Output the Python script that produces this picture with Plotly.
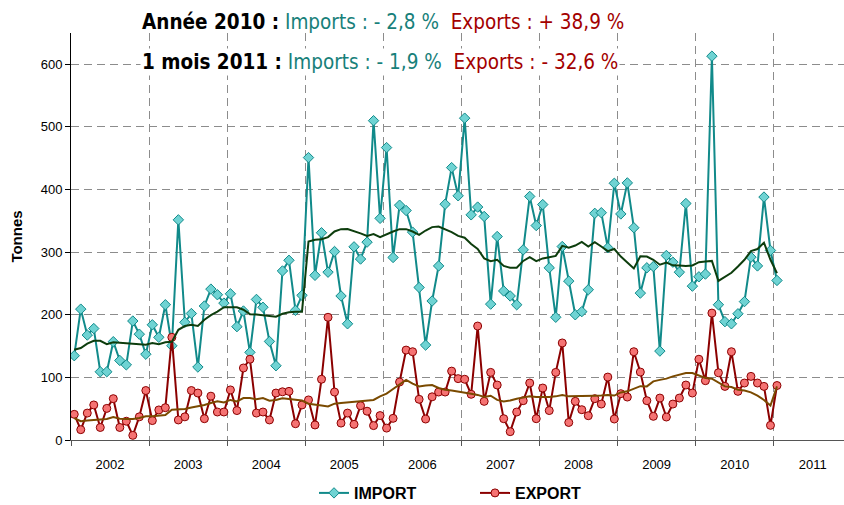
import plotly.graph_objects as go

years = ["2002", "2003", "2004", "2005", "2006", "2007", "2008", "2009", "2010", "2011"]

imports = [
    134.6, 209, 167.6, 178, 109, 109, 157, 127, 120, 190, 169, 137,
    184, 164, 216, 150.5, 351.6, 188, 202, 116.5, 214, 241, 232, 218.6,
    233.5, 181, 206, 140, 224.5, 212, 157.4, 118.6, 270, 287, 207, 231,
    451, 263, 331, 268, 301, 230, 185.6, 308.5, 289, 316, 510, 354,
    467, 291.5, 375, 366.5, 332, 243.6, 151.6, 222, 278, 376.6, 435, 390,
    514, 359.6, 372, 357, 217, 325, 238, 230, 216, 303.7, 389, 342.5,
    376, 275, 196, 309, 253.7, 200, 205, 240, 362, 363, 307, 410,
    361, 410.6, 339, 234.6, 275, 277, 142, 294.7, 284, 268, 377.7, 245.7,
    260.6, 265, 613, 216, 189, 185.6, 201.6, 221, 292, 278, 388, 302.7,
    254.8,
]

exports = [
    41, 16.5, 43, 56, 20, 50.5, 66, 20, 30, 7.4, 37, 79,
    31, 48, 51.6, 164, 32, 37, 79, 75, 34, 70, 44.7, 44.7,
    80, 47, 115, 129, 43, 44.7, 32, 75, 77, 77.7, 26, 56,
    64, 24, 97, 196, 76.6, 27, 43, 25, 54.8, 46, 23, 39,
    19, 34.6, 92.6, 143.6, 141, 65, 33.5, 69, 76.6, 76.6, 110, 98,
    97, 73, 182, 61.7, 108, 87.8, 34, 13.3, 44.7, 62.8, 91, 34,
    83, 47, 108, 155, 28, 61.7, 48.4, 38.8, 66, 57.4, 100.5, 33.5,
    74, 68.6, 141, 108.5, 62.8, 37.8, 67, 36.7, 57.4, 67, 87.8, 75,
    129, 94.7, 202.7, 107.4, 85.6, 141, 77.7, 91, 101.6, 91, 85.6, 23.4,
    87,
]

imports_avg = [
    144, 147, 154, 158.5, 158.5, 153, 156, 155, 155, 154, 153, 152,
    155, 153, 156, 157, 176, 182, 184, 182, 192, 199.5, 205, 212,
    212, 212, 208, 201, 200.5, 199.5, 198, 197, 201.6, 204, 205, 205,
    317, 319.7, 320.7, 324, 333, 336.7, 337, 334, 330, 326, 329, 324,
    329, 333, 336.7, 336.7, 333, 327.7, 334.6, 340, 341, 336.7, 332, 326,
    323, 313, 305, 290, 285.6, 287.8, 278, 275, 275, 286, 292, 285.6,
    290, 292, 294, 310, 307, 310.6, 316.5, 309, 316, 309, 301.6, 305,
    293, 283.5, 274, 293.5, 293, 287.8, 280, 283.5, 279, 278.7, 278, 278.7,
    284, 285, 286, 254, 260, 267, 277, 287.8, 301.6, 305, 315, 287.8,
    266.5,
]

exports_avg = [
    35, 30, 31, 32, 32, 33.5, 36.7, 34, 33.5, 33.5, 35, 37.8,
    37.8, 39, 40, 48.4, 49.5, 49.5, 52, 53.7, 56, 59, 61.7, 60,
    64, 61.7, 67, 67, 65, 67, 62.8, 64, 66.5, 65.4, 64, 63,
    58, 56, 55, 53.7, 58, 59, 60, 60.6, 62, 62.8, 64, 69.7,
    74, 81.4, 88, 96, 90, 85.6, 87, 87.8, 83, 80.3, 79, 77.7,
    76, 74, 72, 68.6, 70.7, 64, 61.7, 63, 66, 68, 69.7, 68.6,
    68, 68.6, 69.7, 72, 69.7, 69.7, 70.7, 70.7, 70.7, 71, 71.8, 71,
    76, 77.7, 82, 86, 85.6, 93.6, 96, 98, 101.6, 104, 107, 107,
    102.7, 99, 98, 92, 85.6, 84.6, 80.3, 79, 76, 70.7, 64, 55,
    85.6,
]

months = [i + 0.5 for i in range(len(imports))]
year_centers = [12 * k + 6 for k in range(len(years))]

TEAL = "#118a8a"
DARKRED = "#8b0000"
NARROW = "Liberation Sans Narrow, Arial Narrow, DejaVu Sans Condensed, sans-serif"

fig = go.Figure()
fig.add_trace(go.Scatter(
    x=months, y=imports, mode="lines+markers", name="IMPORT",
    line=dict(color=TEAL, width=2),
    marker=dict(symbol="diamond", size=8, color="#6fd3d3", line=dict(color=TEAL, width=1)),
))
fig.add_trace(go.Scatter(
    x=months, y=exports, mode="lines+markers", name="EXPORT",
    line=dict(color=DARKRED, width=2),
    marker=dict(symbol="circle", size=8, color="#f57373", line=dict(color=DARKRED, width=1)),
))
fig.add_trace(go.Scatter(
    x=months, y=imports_avg, mode="lines", showlegend=False,
    line=dict(color="#0d3d0d", width=2), hoverinfo="skip",
))
fig.add_trace(go.Scatter(
    x=months, y=exports_avg, mode="lines", showlegend=False,
    line=dict(color="#7a4a00", width=2), hoverinfo="skip",
))

fig.update_layout(
    width=844, height=505,
    margin=dict(l=71, r=0, t=33, b=65, autoexpand=False),
    paper_bgcolor="white", plot_bgcolor="white",
    font=dict(family="Liberation Sans, Arial, sans-serif", size=13, color="black"),
    showlegend=True,
    legend=dict(
        orientation="h", xref="container", yref="container",
        x=314 / 844, xanchor="left", y=(505 - 493) / 505, yanchor="middle",
        font=dict(family="Liberation Sans, Arial, sans-serif", size=16, color="black", weight="bold"),
        itemwidth=30, entrywidth=116, bgcolor="rgba(0,0,0,0)",
    ),
    xaxis=dict(
        range=[0, 118.8], showgrid=False, zeroline=False, automargin=False,
        tickmode="array", tickvals=year_centers, ticktext=years, ticks="",
        ticklabelstandoff=12,
        showline=True, linecolor="#555555", linewidth=1,
        minor=dict(tickmode="linear", tick0=0, dtick=12, showgrid=True,
                   gridcolor="#8c8c8c", griddash="8px,5px", gridwidth=1,
                   ticks="outside", ticklen=5, tickcolor="#555555"),
    ),
    yaxis=dict(
        range=[0, 650], tickmode="array", tickvals=[0, 100, 200, 300, 400, 500, 600],
        showgrid=True, gridcolor="#8c8c8c", griddash="8px,5px", gridwidth=1,
        zeroline=False, showline=True, linecolor="black", linewidth=1, automargin=False,
        ticks="outside", ticklen=5, tickcolor="black",
        title=dict(text="<b>Tonnes</b>", font=dict(size=15), standoff=14),
    ),
)

line1 = ("<b>Année 2010 :</b> <span style='color:#17807a'>Imports : - 2,8 %</span>&nbsp; "
         "<span style='color:#a30000'>Exports : + 38,9 %</span>")
line2 = ("<b>1 mois 2011 :</b> <span style='color:#17807a'>Imports : - 1,9 %</span>&nbsp; "
         "<span style='color:#a30000'>Exports : - 32,6 %</span>")
fig.add_annotation(text=line1, xref="paper", yref="paper", x=(140 - 71) / 773, y=(440 - 22) / 407,
                   xanchor="left", yanchor="middle", showarrow=False,
                   font=dict(family=NARROW, size=20.5, color="black"))
fig.add_annotation(text=line2, xref="paper", yref="paper", x=(140 - 71) / 773, y=(440 - 62) / 407,
                   xanchor="left", yanchor="middle", showarrow=False, bgcolor="white",
                   font=dict(family=NARROW, size=20.5, color="black"))

fig.write_html(
    "out.html",
    config={"displayModeBar": False},
    post_script="document.body.style.margin='0';document.body.style.padding='0';"
                "document.body.style.overflow='hidden';",
)
